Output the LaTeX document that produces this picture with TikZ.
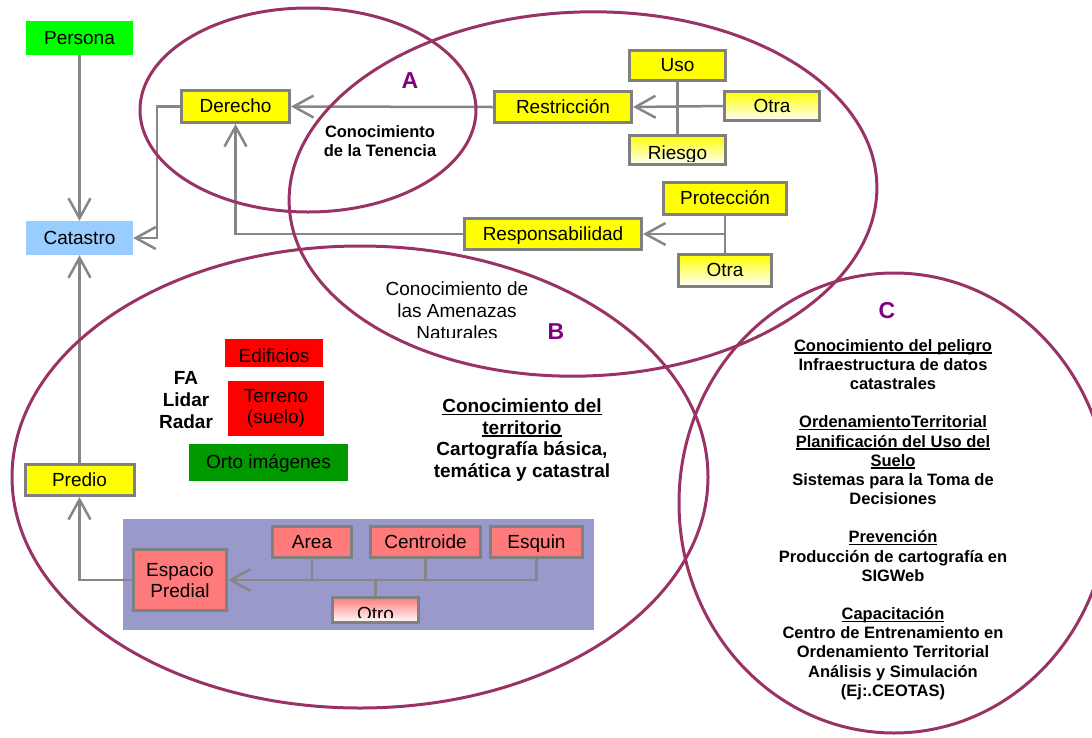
\documentclass[tikz,border=0pt]{standalone}
\usepackage{fontspec}
\setmainfont{Liberation Sans}
\usetikzlibrary{arrows.meta}
\definecolor{ellc}{HTML}{993366}
\definecolor{cgray}{HTML}{868686}
\definecolor{bgray}{HTML}{808080}
\definecolor{ylw}{HTML}{FFFF00}
\definecolor{sal}{HTML}{FF7B7B}
\definecolor{prp}{HTML}{9999CC}
\definecolor{lblc}{HTML}{800080}
\definecolor{grn}{HTML}{00FF00}
\definecolor{dgrn}{HTML}{009900}
\definecolor{lblue}{HTML}{99CCFF}
\newcommand{\myfs}[2]{\fontsize{#1}{#2}\selectfont}
\newsavebox{\ulbx}
\newcommand{\myul}[1]{\sbox{\ulbx}{#1}\rlap{\rule[-2.5pt]{\wd\ulbx}{1.3pt}}\usebox{\ulbx}}
\begin{document}
\begin{tikzpicture}[x=1pt,y=-1pt,
  one/.style={text height=12.5pt, text depth=0pt},
  flat/.style={inner sep=0pt, font=\myfs{19}{21}, align=center},
  ybox/.style={flat, draw=bgray, line width=3pt, fill=ylw},
  gbox/.style={flat, draw=bgray, line width=3pt, top color=ylw, bottom color=white},
  sbox/.style={flat, draw=bgray, line width=3pt, fill=sal},
  obox/.style={flat, draw=bgray, line width=3pt, top color=sal, bottom color=white},
  conn/.style={draw=cgray, line width=2.5pt},
  arr/.style={conn, -{Straight Barb[length=20pt,width=22pt]}},
  venn/.style={draw=ellc, line width=3pt},
  biglbl/.style={text=lblc, font=\bfseries\myfs{23}{23}, inner sep=0pt},
]
\useasboundingbox (0,0) rectangle (1092,737);

% background panel
\fill[prp] (123,519) rectangle (594,630);

% boxes
\node[flat, one, fill=grn, minimum width=107pt, minimum height=34pt] (persona) at (79.5,38) {Persona};
\node[flat, one, fill=lblue, minimum width=107pt, minimum height=34pt] (catastro) at (79.5,238) {Catastro};
\node[ybox, one, minimum width=108pt, minimum height=32pt] (derecho) at (235.5,106.5) {Derecho};
\node[ybox, one, minimum width=137pt, minimum height=31pt] (restr) at (563,107) {Restricción};
\node[ybox, one, minimum width=96pt, minimum height=30pt] (uso) at (677.5,65.5) {Uso};
\node[gbox, one, minimum width=95pt, minimum height=29pt] (otra1) at (772,106) {Otra};
\node[gbox, minimum width=96pt, minimum height=29pt] (riesgo) at (677.5,150) {};
\node[ybox, one, minimum width=123pt, minimum height=32pt] (prot) at (725,198.5) {Protección};
\node[ybox, one, minimum width=177pt, minimum height=31pt] (resp) at (553,234) {Responsabilidad};
\node[gbox, one, minimum width=93pt, minimum height=32pt] (otra2) at (725,270.5) {Otra};
\node[ybox, one, minimum width=109pt, minimum height=31pt] (predio) at (79.5,480) {Predio};

\node[flat, fill=red, minimum width=98pt, minimum height=28pt] (edif) at (274,353) {};
\node[flat, fill=red, minimum width=96pt, minimum height=55pt] (terreno) at (276,408.5) {Terreno\\(suelo)};
\node[flat, one, fill=dgrn, minimum width=159pt, minimum height=37pt] (orto) at (268.5,462.5) {Orto imágenes};

\node[sbox, minimum width=93pt, minimum height=61pt] (espacio) at (180,580) {Espacio\\Predial};
\node[sbox, one, minimum width=79pt, minimum height=31pt] (area) at (312,542) {Area};
\node[sbox, one, minimum width=110pt, minimum height=31pt] (centroide) at (425.5,542) {Centroide};
\node[sbox, one, minimum width=92pt, minimum height=31pt] (esquin) at (536.5,542) {Esquin};
\node[obox, minimum width=86pt, minimum height=25pt] (otro) at (375.5,610) {};

% clipped labels
\begin{scope}
\clip (630,136) rectangle (725,161);
\node[flat, anchor=base] (riesgoT) at (677.5,159) {Riesgo};
\end{scope}
\begin{scope}
\clip (225,339) rectangle (323,362);
\node[flat, anchor=base] (edifT) at (274,362.5) {Edificios};
\end{scope}
\begin{scope}
\clip (333,598) rectangle (418,617);
\node[flat, anchor=base] (otroT) at (375.5,620.5) {Otro};
\end{scope}

% connectors
\draw[arr] (persona.south) -- (catastro.north);
\draw[arr] (predio.north) -- (catastro.south);
\draw[arr] (derecho.west) -- ++(-23,0) |- (catastro.east);
\draw[arr] (otra1.west) -- (restr.east);
\draw[arr] (restr.west) -- (derecho.east);
\draw[conn] (uso.south) -- (riesgo.north);
\draw[conn] (prot.south) -- (otra2.north);
\draw[arr] (prot.south |- resp.east) -- (resp.east);
\draw[arr] (resp.west) -| (derecho.south);
\draw[arr] (espacio.west) -| (predio.south);
\draw[conn] (area.south) -- (area.south |- espacio.east);
\draw[conn] (centroide.south) -- (centroide.south |- espacio.east);
\draw[arr] (esquin.south) |- (espacio.east);
\draw[conn] (otro.north) -- (otro.north |- espacio.east);

% Venn ellipses
\draw[venn] (308,110) ellipse [x radius=168pt, y radius=102pt];
\draw[venn, rotate around={2:(583,194)}] (583,194) ellipse [x radius=294pt, y radius=182pt];
\draw[venn] (360,477) ellipse [x radius=348pt, y radius=231pt];
\draw[venn] (894,503) ellipse [x radius=215pt, y radius=230pt];

% labels
\node[biglbl] (la) at (410,81) {A};
\node[biglbl] (lb) at (556,332) {B};
\node[biglbl] (lc) at (887,311) {C};
\node[inner sep=0pt, font=\bfseries\myfs{16.5}{19}, align=center] (ten) at (380,141.5) {Conocimiento\\de la Tenencia};
\begin{scope}
\clip (360,270) rectangle (560,337);
\node[inner sep=0pt, font=\myfs{19}{22}, align=center] (amen) at (457,311) {Conocimiento de\\las Amenazas\\Naturales};
\end{scope}
\node[inner sep=0pt, font=\bfseries\myfs{19}{21.7}, align=center] (terr) at (522,440) {\myul{Conocimiento del}\\\myul{territorio}\\Cartografía básica,\\temática y catastral};
\node[inner sep=0pt, font=\bfseries\myfs{19}{22}, align=center] (fa) at (186,400.5) {FA\\Lidar\\Radar};
\node[inner sep=0pt, font=\bfseries\myfs{16.5}{19.17}, align=center] (ctext) at (893,519.5) {\myul{Conocimiento del peligro}\\Infraestructura de datos\\catastrales\\[19.17pt]\myul{OrdenamientoTerritorial}\\\myul{Planificación del Uso del}\\\myul{Suelo}\\Sistemas para la Toma de\\Decisiones\\[19.17pt]\myul{Prevención}\\Producción de cartografía en\\SIGWeb\\[19.17pt]\myul{Capacitación}\\Centro de Entrenamiento en\\Ordenamiento Territorial\\Análisis y Simulación\\(Ej:.CEOTAS)};
\end{tikzpicture}
\end{document}
